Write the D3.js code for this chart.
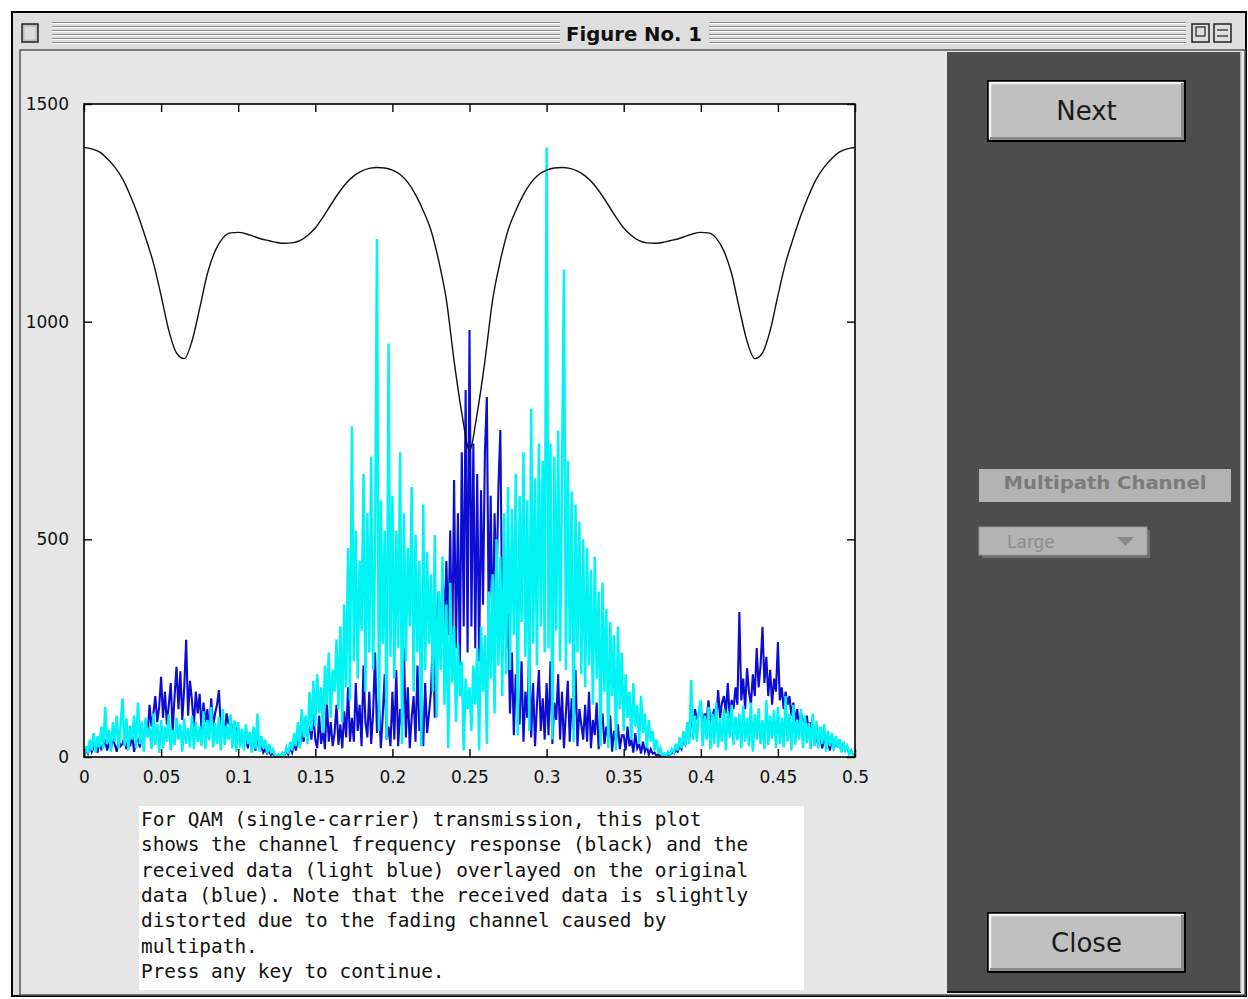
<!DOCTYPE html>
<html><head><meta charset="utf-8">
<script src="https://cdn.jsdelivr.net/npm/d3@7"></script>
<style>body{margin:0;background:#fff;overflow:hidden}</style>
</head><body>
<svg id="c" width="1248" height="999"></svg>
<script>
// ---------------- data ----------------
const xTicks = [0, 0.05, 0.1, 0.15, 0.2, 0.25, 0.3, 0.35, 0.4, 0.45, 0.5];
const xTickLabels = ["0", "0.05", "0.1", "0.15", "0.2", "0.25", "0.3", "0.35", "0.4", "0.45", "0.5"];
const yTicks = [0, 500, 1000, 1500];
const yTickLabels = ["0", "500", "1000", "1500"];

// channel frequency response (black), normalized frequency 0..0.5
const channelResponse = [
 1400,1397,1390,1375,1355,1328,1290,1245,1192,1135,1060,980,928,915,955,1030,1110,1162,1192,1204,
 1205,1202,1196,1190,1186,1182,1180,1181,1186,1198,1215,1240,1268,1295,1318,1335,1346,1352,1354,1353,
 1348,1338,1320,1292,1255,1210,1140,1050,910,790,705,
 790,910,1050,1140,1210,1255,1292,1320,1338,1348,1353,1354,1352,1346,1335,1318,1295,1268,1240,1215,
 1198,1186,1181,1180,1182,1186,1190,1196,1202,1205,1204,1192,1162,1110,1030,955,915,928,980,1060,
 1135,1192,1245,1290,1328,1355,1375,1390,1397,1400
];

// original data (blue)
const originalData = [
 3,15,8,30,12,22,28,10,35,18,25,40,15,33,20,42,28,12,38,25,
 30,45,18,38,25,50,12,35,40,22,60,35,85,50,120,70,100,140,80,115,
 184,90,150,75,120,170,60,140,207,110,197,85,160,269,95,175,130,70,150,100,
 145,60,125,80,110,50,135,70,100,120,154,65,85,55,100,75,90,50,80,60,
 65,30,55,40,48,20,52,28,35,15,40,22,25,10,18,8,12,5,8,3,
 2,4,3,8,5,12,6,20,10,30,15,45,25,60,35,90,50,70,40,100,
 40,20,95,30,60,18,130,35,80,25,55,120,28,75,20,105,45,160,35,90,
 35,170,60,120,25,210,80,45,150,30,100,240,55,135,20,95,190,40,70,25,
 150,40,200,25,110,70,250,45,160,20,90,140,35,210,60,120,25,170,55,100,
 150,280,90,320,380,250,430,300,450,280,520,220,636,250,560,210,700,300,843,240,
 981,300,720,250,650,220,613,350,700,827,300,600,240,560,380,620,751,300,480,250,
 330,100,240,50,190,130,75,220,35,150,90,250,45,170,25,120,200,60,135,40,
 170,50,220,30,125,85,190,40,150,20,100,175,35,135,65,200,25,110,75,40,
 120,35,150,20,85,50,125,18,75,100,30,70,42,95,12,60,35,75,18,50,
 50,15,70,25,40,10,55,20,30,8,35,12,25,5,18,8,10,3,6,2,
 2,4,3,6,5,10,8,15,12,25,18,40,30,60,45,80,70,110,85,100,
 115,70,100,85,130,75,95,110,80,154,90,125,140,100,170,90,131,110,160,120,
 333,130,180,110,204,150,120,190,140,250,160,210,299,170,230,140,200,120,180,150,
 264,130,160,110,150,120,140,95,125,80,110,70,100,85,75,95,60,80,55,70,
 45,25,50,20,40,30,35,15,45,20,30,25,40,12,28,18,22,8,15,5,
 2
];

// received data (light blue)
const receivedData = [
 2,25,8,40,15,55,10,48,22,70,18,115,30,62,12,80,35,95,20,75,
 135,25,88,15,72,40,95,20,125,30,82,12,90,45,68,18,100,28,76,10,
 85,20,70,35,98,15,62,28,90,40,75,12,88,30,66,22,95,18,80,35,
 70,25,105,18,85,38,115,22,78,30,92,15,110,28,72,40,98,20,84,12,
 80,22,65,15,75,30,58,10,70,18,100,12,48,20,40,8,30,12,18,4,
 2,6,3,10,5,22,8,35,15,55,25,80,20,110,45,95,30,150,60,175,
 70,190,100,160,55,210,120,240,90,200,150,270,110,300,80,350,160,480,130,760,
 220,520,180,450,290,650,150,560,240,690,200,480,1190,60,590,260,520,40,950,230,
 600,180,520,250,700,30,560,220,480,300,620,150,510,240,450,25,580,200,470,260,
 420,150,510,90,380,200,460,120,350,20,400,170,300,80,260,140,220,15,180,110,
 160,60,210,120,250,15,300,150,280,30,380,180,420,100,500,210,460,140,560,190,
 620,200,570,280,650,50,600,310,700,230,590,60,800,260,640,210,720,300,680,240,
 1400,250,720,40,690,290,750,220,640,1120,200,680,260,610,35,580,240,540,190,500,
 160,480,210,430,120,460,180,380,25,400,150,340,20,310,140,280,15,300,110,240,
 60,190,90,150,40,170,70,120,30,140,55,100,20,85,35,60,15,40,8,20,
 3,8,2,12,5,18,10,30,15,45,20,60,25,80,30,177,40,95,35,110,
 130,25,95,40,115,18,100,30,125,22,88,35,110,15,105,45,120,28,92,38,
 100,20,118,35,90,25,125,12,98,40,112,30,85,18,130,28,95,42,108,20,
 115,30,90,22,140,35,100,15,120,28,85,40,110,20,95,32,78,18,100,25,
 82,20,70,30,75,12,60,25,55,15,48,22,40,10,35,15,25,6,14,3,
 0
];

const windowTitle = "Figure No. 1";
const noteLines = [
 "For QAM (single-carrier) transmission, this plot",
 "shows the channel frequency response (black) and the",
 "received data (light blue) overlayed on the original",
 "data (blue). Note that the received data is slightly",
 "distorted due to the fading channel caused by",
 "multipath.",
 "Press any key to continue."
];

// ---------------- drawing ----------------
const svg = d3.select('#c');

// window frame
svg.append('rect').attr('x',12).attr('y',12).attr('width',1234).attr('height',984)
  .attr('fill','#dedede').attr('stroke','#000').attr('stroke-width',2);

// title bar stripes
const stripeYs = d3.range(6).map(i => 22 + i*4);
[[52,560],[709,1186]].forEach(([a,b]) => {
  stripeYs.forEach(y => {
    svg.append('line').attr('x1',a).attr('x2',b).attr('y1',y+0.5).attr('y2',y+0.5).attr('stroke','#8a8a8a');
    svg.append('line').attr('x1',a).attr('x2',b).attr('y1',y+1.5).attr('y2',y+1.5).attr('stroke','#ffffff');
  });
});
svg.append('text').attr('x',634).attr('y',41).attr('text-anchor','middle')
  .attr('font-family','DejaVu Sans').attr('font-weight','bold').attr('font-size',20)
  .attr('textLength',136).attr('lengthAdjust','spacingAndGlyphs').attr('fill','#111').text(windowTitle);

// close box
svg.append('rect').attr('x',22).attr('y',24).attr('width',16).attr('height',18).attr('fill','#bbb').attr('stroke','#222').attr('stroke-width',1.5);
svg.append('rect').attr('x',24.5).attr('y',26.5).attr('width',11).attr('height',13).attr('fill','#ddd').attr('stroke','none');
// zoom / collapse boxes
[[1192,24],[1214,24]].forEach(([x,y]) => {
  svg.append('rect').attr('x',x).attr('y',y).attr('width',17).attr('height',18).attr('fill','#ddd').attr('stroke','#222').attr('stroke-width',1.5);
});
svg.append('rect').attr('x',1196).attr('y',27).attr('width',9).attr('height',9).attr('fill','none').attr('stroke','#222').attr('stroke-width',1.2);
svg.append('line').attr('x1',1217).attr('x2',1228).attr('y1',30).attr('y2',30).attr('stroke','#222').attr('stroke-width',1.2);
svg.append('line').attr('x1',1217).attr('x2',1228).attr('y1',36).attr('y2',36).attr('stroke','#222').attr('stroke-width',1.2);

// content area
svg.append('rect').attr('x',20).attr('y',50).attr('width',1225).attr('height',945)
  .attr('fill','#e6e6e6').attr('stroke','#555').attr('stroke-width',1.5);

// right control panel
svg.append('rect').attr('x',947).attr('y',52).attr('width',294).attr('height',940)
  .attr('fill','#4d4d4d');
svg.append('line').attr('x1',947).attr('x2',1241).attr('y1',992).attr('y2',992).attr('stroke','#111').attr('stroke-width',2);
svg.append('line').attr('x1',1241).attr('x2',1241).attr('y1',52).attr('y2',992).attr('stroke','#cfcfcf').attr('stroke-width',1.5);

function button(x,y,w,h,label){
  svg.append('rect').attr('x',x).attr('y',y).attr('width',w).attr('height',h).attr('fill','#c0c0c0').attr('stroke','#000').attr('stroke-width',2);
  svg.append('path').attr('d',`M${x+2},${y+h-2}V${y+2}H${x+w-2}`).attr('fill','none').attr('stroke','#f4f4f4').attr('stroke-width',2.5);
  svg.append('path').attr('d',`M${x+2},${y+h-2.5}H${x+w-2.5}V${y+2}`).attr('fill','none').attr('stroke','#8a8a8a').attr('stroke-width',3);
  svg.append('text').attr('x',x+w/2).attr('y',y+h/2+9).attr('text-anchor','middle')
    .attr('font-family','DejaVu Sans').attr('font-size',26).attr('fill','#1a1a1a').text(label);
}
button(988,81,197,60,'Next');
button(988,913,197,59,'Close');

// "Multipath Channel" label
svg.append('rect').attr('x',979).attr('y',469).attr('width',252).attr('height',33).attr('fill','#b3b3b3');
svg.append('text').attr('x',1105).attr('y',489).attr('text-anchor','middle')
  .attr('font-family','DejaVu Sans').attr('font-weight','bold').attr('font-size',17)
  .attr('textLength',203).attr('lengthAdjust','spacingAndGlyphs').attr('fill','#7b7b7b').text('Multipath Channel');

// popup "Large"
svg.append('rect').attr('x',982).attr('y',530).attr('width',168).attr('height',28).attr('fill','#6e6e6e');
svg.append('rect').attr('x',979).attr('y',527).attr('width',168).attr('height',28).attr('fill','#b3b3b3').attr('stroke','#999').attr('stroke-width',1);
svg.append('text').attr('x',1007).attr('y',548).attr('font-family','DejaVu Sans').attr('font-size',17).attr('fill','#8c8c8c').text('Large');
svg.append('path').attr('d','M1117,537L1134,537L1125.5,546Z').attr('fill','#8a8a8a');

// note text box
svg.append('rect').attr('x',139).attr('y',806).attr('width',665).attr('height',184).attr('fill','#fff');
svg.append('g').selectAll('text').data(noteLines).join('text')
  .attr('x',141).attr('y',(d,i)=>826 + i*25.3)
  .attr('font-family','DejaVu Sans Mono').attr('font-size',19.4).attr('fill','#111')
  .attr('xml:space','preserve').text(d=>d);

// ---------------- plot ----------------
const px0 = 84, px1 = 855, py0 = 757, py1 = 104;
const x = d3.scaleLinear().domain([0,0.5]).range([px0,px1]);
const y = d3.scaleLinear().domain([0,1500]).range([py0,py1]);

svg.append('rect').attr('x',px0).attr('y',py1).attr('width',px1-px0).attr('height',py0-py1).attr('fill','#fff');

svg.append('clipPath').attr('id','clip').append('rect')
  .attr('x',px0).attr('y',py1).attr('width',px1-px0).attr('height',py0-py1);
const plot = svg.append('g').attr('clip-path','url(#clip)');

function series(arr){ const n = arr.length; return arr.map((v,i)=>[0.5*i/(n-1), v]); }
const lineGen = d3.line().x(d=>x(d[0])).y(d=>y(d[1]));

plot.append('path').datum(series(originalData)).attr('d',lineGen)
  .attr('fill','none').attr('stroke','#0c0cd2').attr('stroke-width',2.1).attr('stroke-linejoin','miter');
plot.append('path').datum(series(receivedData)).attr('d',lineGen)
  .attr('fill','none').attr('stroke','#00f4f4').attr('stroke-width',2.5).attr('stroke-linejoin','miter');
plot.append('path').datum(series(channelResponse)).attr('d',lineGen.curve(d3.curveMonotoneX))
  .attr('fill','none').attr('stroke','#111').attr('stroke-width',1.4);

// axes box
svg.append('rect').attr('x',px0).attr('y',py1).attr('width',px1-px0).attr('height',py0-py1)
  .attr('fill','none').attr('stroke','#000').attr('stroke-width',1.6);

const tickLen = 8;
const axisFont = {family:'DejaVu Sans', size:17};
const xb = d3.axisBottom(x).tickValues(xTicks).tickSize(-tickLen).tickPadding(tickLen+6)
  .tickFormat((d,i)=>xTickLabels[i]);
const gx = svg.append('g').attr('transform',`translate(0,${py0})`).call(xb);
const xt = d3.axisTop(x).tickValues(xTicks).tickSize(-tickLen).tickFormat('');
const gxt = svg.append('g').attr('transform',`translate(0,${py1})`).call(xt);
const yl = d3.axisLeft(y).tickValues(yTicks).tickSize(-tickLen).tickPadding(tickLen+7)
  .tickFormat((d,i)=>yTickLabels[i]);
const gy = svg.append('g').attr('transform',`translate(${px0},0)`).call(yl);
const yr = d3.axisRight(y).tickValues(yTicks).tickSize(-tickLen).tickFormat('');
const gyr = svg.append('g').attr('transform',`translate(${px1},0)`).call(yr);

[gx,gxt,gy,gyr].forEach(g=>{
  g.select('.domain').remove();
  g.selectAll('.tick line').attr('stroke','#000').attr('stroke-width',1.4);
  g.selectAll('.tick text').attr('font-family',axisFont.family).attr('font-size',axisFont.size).attr('fill','#111');
});
</script>
</body></html>
